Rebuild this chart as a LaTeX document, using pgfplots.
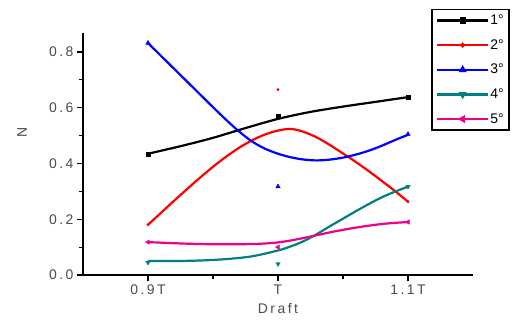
\documentclass[border=0pt]{standalone}
\usepackage{fontspec}
\setmainfont{Liberation Sans}[LetterSpace=18]
\newfontfamily\plainfont{Liberation Sans}
\usepackage{pgfplots}
\pgfplotsset{compat=1.18}
\definecolor{myteal}{RGB}{0,128,128}
\definecolor{txt}{RGB}{75,75,75}
\begin{document}
\begin{tikzpicture}
\useasboundingbox (-83bp,-47bp) rectangle (430bp,275bp);
\begin{axis}[
  scale only axis, width=390bp, height=242bp,
  at={(0,0)}, anchor=south west,
  xmin=-0.5, xmax=2.5, ymin=0, ymax=0.868,
  axis x line*=bottom, axis y line*=left,
  axis line style={line width=1.6bp, black},
  xtick={0,1,2}, xticklabels={0.9T,T,1.1T},
  minor xtick={0.5,1.5},
  ytick={0,0.2,0.4,0.6,0.8}, minor ytick={0.1,0.3,0.5,0.7},
  tick align=outside, major tick length=6bp, minor tick length=4bp,
  tick style={line width=1.2bp, black},
  tick label style={font=\fontsize{14}{16}\selectfont, text=txt},
  yticklabel style={/pgf/number format/.cd, fixed, fixed zerofill, precision=1, assume math mode=true},
  xlabel={Draft}, ylabel={N},
  label style={font=\fontsize{14}{16}\selectfont, text=txt},
  xlabel style={at={(axis description cs:0.5,-0.14)}, anchor=center},
  ylabel style={at={(axis description cs:-0.156,0.587)}, anchor=center},
  legend image code/.code={\draw[#1, mark repeat=2, mark phase=2] plot coordinates {(0bp,0bp) (25.5bp,0bp) (51bp,0bp)};},
  legend style={at={(axis description cs:1.094,1.099)}, anchor=north east,
    draw=black, line width=1.3bp, font=\plainfont\fontsize{14}{16}\selectfont,
    row sep=11bp, inner xsep=4bp, inner ysep=4bp, nodes={inner sep=1.2bp}},
  legend cell align=left,
]
% curves
\addplot[black, line width=2.2bp, smooth, forget plot] coordinates {(0,0.435) (0.25,0.462) (0.5,0.492) (0.75,0.527) (1.0,0.560) (1.25,0.585) (1.5,0.604) (1.75,0.621) (2.0,0.638)};
\addplot[red, line width=2.2bp, smooth, forget plot] coordinates {(0,0.18) (0.1,0.223) (0.2,0.266) (0.3,0.308) (0.4,0.349) (0.5,0.388) (0.6,0.424) (0.7,0.456) (0.8,0.483) (0.9,0.504) (1.0,0.518) (1.1,0.524) (1.2,0.513) (1.3,0.493) (1.4,0.466) (1.5,0.436) (1.6,0.405) (1.7,0.372) (1.8,0.337) (1.9,0.301) (2.0,0.263)};
\addplot[blue, line width=2.2bp, smooth, forget plot] coordinates {(0,0.832) (0.1,0.786) (0.2,0.740) (0.3,0.694) (0.4,0.648) (0.5,0.602) (0.6,0.557) (0.7,0.515) (0.8,0.479) (0.9,0.453) (1.0,0.435) (1.1,0.422) (1.2,0.414) (1.3,0.411) (1.4,0.414) (1.5,0.421) (1.6,0.432) (1.7,0.446) (1.8,0.464) (1.9,0.484) (2.0,0.503)};
\addplot[myteal, line width=2.2bp, smooth, forget plot] coordinates {(0,0.05) (0.2,0.05) (0.4,0.052) (0.6,0.057) (0.8,0.067) (1.0,0.088) (1.1,0.103) (1.2,0.122) (1.3,0.147) (1.4,0.175) (1.5,0.202) (1.6,0.229) (1.7,0.255) (1.8,0.279) (1.9,0.299) (2.0,0.317)};
\addplot[magenta, line width=2.2bp, smooth, forget plot] coordinates {(0,0.118) (0.2,0.114) (0.4,0.111) (0.6,0.110) (0.8,0.111) (0.9,0.113) (1.0,0.117) (1.1,0.124) (1.2,0.133) (1.3,0.143) (1.4,0.153) (1.5,0.162) (1.6,0.170) (1.7,0.177) (1.8,0.183) (1.9,0.187) (2.0,0.19)};
% data markers
\addplot[only marks, black, mark=square*, mark size=2bp, forget plot] coordinates {(0,0.435) (1,0.569) (2,0.638)};
\addplot[only marks, red, mark=*, mark size=1.3bp, forget plot] coordinates {(0,0.18) (1,0.665) (2,0.263)};
\addplot[only marks, blue, mark=triangle*, mark size=2.6bp, forget plot] coordinates {(0,0.832) (1,0.317) (2,0.505)};
\addplot[only marks, myteal, mark=triangle*, mark size=2.6bp, mark options={rotate=180}, forget plot] coordinates {(0,0.045) (1,0.04) (2,0.317)};
\addplot[only marks, magenta, mark=triangle*, mark size=2.6bp, mark options={rotate=90}, forget plot] coordinates {(0,0.118) (1,0.10) (2,0.19)};
% legend
\addlegendimage{black, line width=2.2bp, mark=square*, mark size=2bp}
\addlegendentry{1°}
\addlegendimage{red, line width=2.2bp, mark=*, mark size=1.3bp}
\addlegendentry{2°}
\addlegendimage{blue, line width=2.2bp, mark=triangle*, mark size=2.6bp}
\addlegendentry{3°}
\addlegendimage{myteal, line width=2.2bp, mark=triangle*, mark size=2.6bp, mark options={rotate=180}}
\addlegendentry{4°}
\addlegendimage{magenta, line width=2.2bp, mark=triangle*, mark size=2.6bp, mark options={rotate=90}}
\addlegendentry{5°}
\end{axis}
\end{tikzpicture}
\end{document}
